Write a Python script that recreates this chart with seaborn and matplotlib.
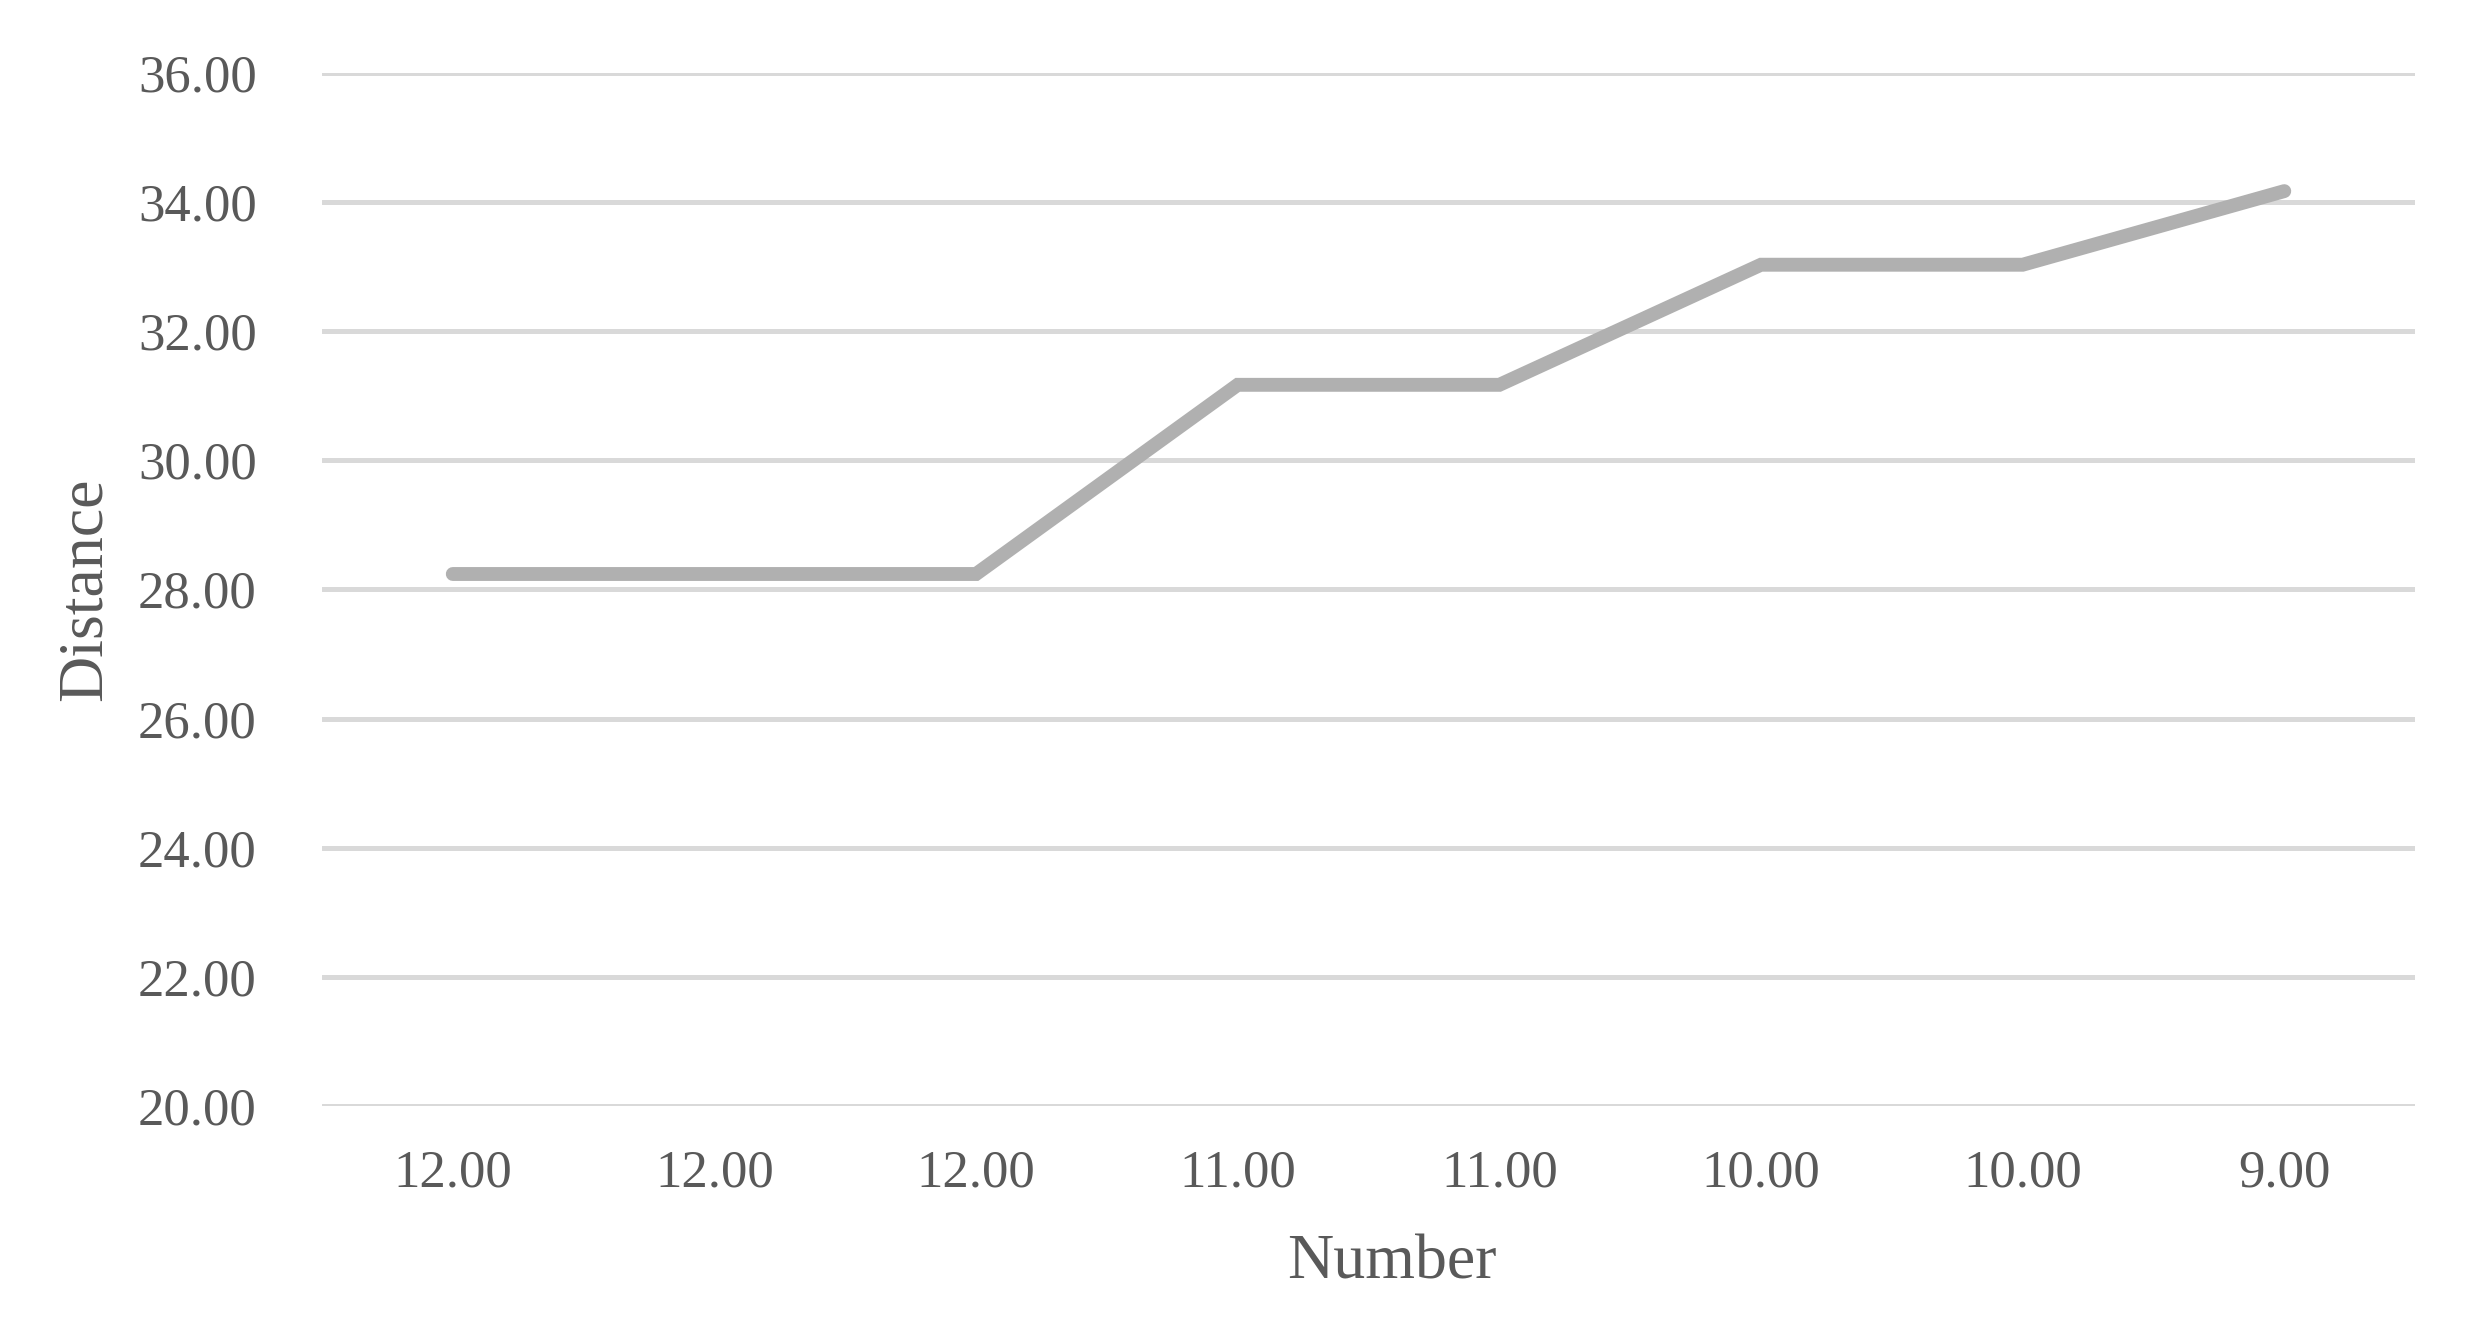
import numpy as np
import pandas as pd
import seaborn as sns
import matplotlib.pyplot as plt

# values
numbers = [12.00, 12.00, 12.00, 11.00, 11.00, 10.00, 10.00, 9.00]
distance = [28.24, 28.24, 28.24, 31.17, 31.17, 33.03, 33.03, 34.17]
y_ticks = [20, 22, 24, 26, 28, 30, 32, 34, 36]

df = pd.DataFrame({
    'pos': np.arange(len(numbers)),
    'Number': numbers,
    'Distance': distance
})

sns.set_theme(style='white')
plt.rcParams['font.family'] = ['Liberation Serif', 'DejaVu Serif']

fig = plt.figure(figsize=(24.88, 13.34), dpi=100)
ax = fig.add_axes([0.1294, 0.1709, 0.8413, 0.7744])

sns.lineplot(data=df, x='pos', y='Distance', ax=ax,
             color='#b0b0b0', linewidth=10, solid_capstyle='round',
             solid_joinstyle='miter')

ax.set_ylim(20, 36)
ax.set_xlim(-0.5, len(numbers) - 0.5)
ax.set_yticks(y_ticks)
ax.set_yticklabels([f'{v:.2f}' for v in y_ticks])
ax.set_xticks(df['pos'])
ax.set_xticklabels([f'{v:.2f}' for v in numbers])

ax.grid(True, axis='y', color='#d9d9d9', linewidth=3.6)
ax.set_axisbelow(True)
for s in ax.spines.values():
    s.set_visible(False)

ax.tick_params(axis='y', length=0, pad=47, labelsize=38, labelcolor='#595959')
ax.tick_params(axis='x', length=0, pad=31, labelsize=38, labelcolor='#595959')

ax.set_xlabel('Number', fontsize=46, color='#595959', labelpad=27)
ax.xaxis.label.set_x(0.511)
ax.set_ylabel('Distance', fontsize=46, color='#595959', labelpad=17)

fig.savefig('out.png', dpi=100, facecolor='white')
